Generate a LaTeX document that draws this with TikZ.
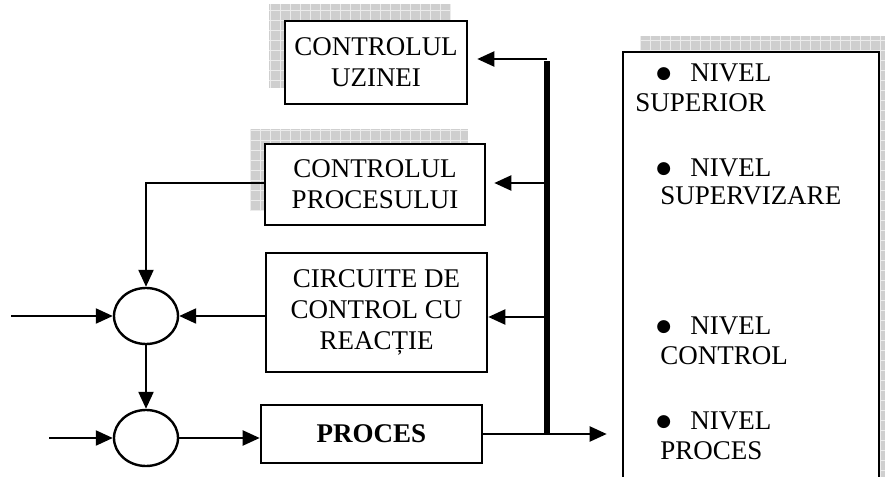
\documentclass[tikz,border=0pt]{standalone}
\usepackage{fontspec}
\setmainfont{Liberation Serif}
\newfontfamily\symfont{DejaVu Sans}
\usetikzlibrary{shapes.geometric, arrows.meta, positioning, calc}
\tikzset{
  ctlbox/.style={
    draw, line width=1.3pt, align=center, fill=white, inner sep=0pt,
    font=\fontsize{13.5}{15.5}\selectfont
  },
  sumnode/.style={ellipse, draw, line width=1.2pt, fill=white,
    minimum width=32pt, minimum height=28pt, inner sep=0pt},
  sigarrow/.style={-{Triangle[length=8.5pt, width=7.5pt]}, line width=1.1pt},
  busline/.style={line width=2.6pt},
  shadowfill/.style={fill=gray!38},
  shadowgrid/.style={draw=gray!15, line width=0.4pt, step=5pt},
  lvltext/.style={anchor=base west, inner sep=0pt, font=\fontsize{13.5}{15.5}\selectfont},
}
% bullet of the level list
\newcommand{\lvlbullet}{\makebox[17pt][l]{\raisebox{1.2pt}{\symfont\fontsize{8.5}{8.5}\selectfont ●}}}

\begin{document}
\begin{tikzpicture}[x=0.5pt, y=-0.5pt]
  \useasboundingbox (0,0) rectangle (885,477);
  \begin{scope}
  \clip (0,0) rectangle (885,477);

  % hatched drop shadows
  \foreach \ax/\ay/\bx/\by in {269/4/451/88, 250/129/468/210, 640/36/900/490}{
    \fill[shadowfill] (\ax,\ay) rectangle (\bx,\by);
    \draw[shadowgrid] (\ax,\ay) grid (\bx,\by);
  }

  % control hierarchy
  \node[ctlbox, minimum width=91pt, minimum height=41.5pt] (uzina) at (376,62.5) {CONTROLUL\\UZINEI};
  \node[ctlbox, minimum width=110pt, minimum height=40.5pt] (procctl) at (375,184.5) {CONTROLUL\\PROCESULUI};
  \node[ctlbox, minimum width=110.5pt, minimum height=59.5pt] (bucla) at (376.5,312.5) {CIRCUITE DE\\CONTROL CU\\REACȚIE};
  \node[ctlbox, minimum width=110.5pt, minimum height=29pt, font=\fontsize{13.5}{15.5}\selectfont\bfseries] (proces) at (371.5,434) {PROCES};

  % summing points
  \node[sumnode] (sum1) at (146,316) {};
  \node[sumnode] (sum2) at (146,438) {};

  % levels panel
  \node[draw, line width=1.3pt, fill=white, minimum width=128pt, minimum height=240pt, inner sep=0pt] (niveluri) at (751,292) {};
  \node[lvltext] (n1a) at (656,81) {\lvlbullet NIVEL};
  \node[lvltext] (n1b) at (635,111) {SUPERIOR};
  \node[lvltext] (n2a) at (656,176) {\lvlbullet NIVEL};
  \node[lvltext] (n2b) at (660,204) {SUPERVIZARE};
  \node[lvltext] (n3a) at (656,334) {\lvlbullet NIVEL};
  \node[lvltext] (n3b) at (660,364) {CONTROL};
  \node[lvltext] (n4a) at (656,429) {\lvlbullet NIVEL};
  \node[lvltext] (n4b) at (660,459) {PROCES};

  % feedback bus
  \coordinate (bustop) at (547,59);
  \coordinate (bus1) at (547,183);
  \coordinate (bus2) at (547,317);
  \draw[busline] (547,61) -- (proces.east -| bustop);
  \draw[sigarrow, shorten >=4.5pt] (bustop) -- (bustop -| uzina.east);
  \draw[sigarrow, shorten >=4pt] (bus1) -- (bus1 -| procctl.east);
  \draw[sigarrow] (bus2) -- (bus2 -| bucla.east);

  % signal path
  \coordinate (in1) at (11,316);
  \coordinate (in2) at (49,438);
  \draw[sigarrow] (in1) -- (sum1.west);
  \draw[sigarrow] (in2) -- (sum2.west);
  \draw[sigarrow] (procctl.west |- bus1) -| (sum1.north);
  \draw[sigarrow] (bucla.west |- sum1) -- (sum1.east);
  \draw[sigarrow] (sum1.south) -- (sum2.north);
  \draw[sigarrow] (sum2.east) -- (sum2 -| proces.west);
  \draw[sigarrow, shorten >=7.5pt] (proces.east) -- (proces.east -| niveluri.west);
  \end{scope}
\end{tikzpicture}
\end{document}
